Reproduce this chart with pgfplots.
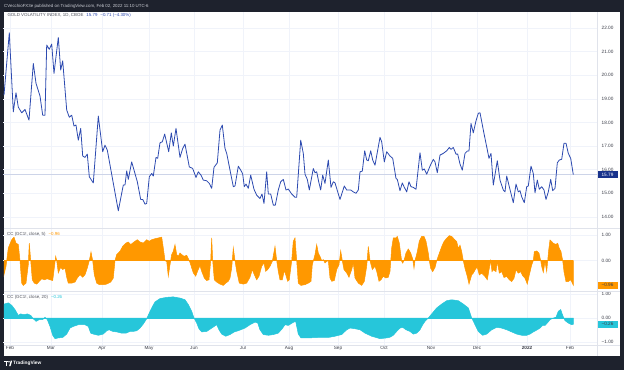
\documentclass[border=0pt]{standalone}
\usepackage{fontspec}
\setmainfont{Liberation Sans}
\usepackage{pgfplots}
\pgfplotsset{compat=1.18}
\definecolor{tvdark}{RGB}{30,34,45}
\definecolor{tvtop}{RGB}{200,203,210}
\definecolor{tvgrid}{RGB}{240,243,250}
\definecolor{tvsep}{RGB}{224,227,235}
\definecolor{tvtext}{RGB}{60,63,74}
\definecolor{tvlegend}{RGB}{80,83,94}
\definecolor{tvblue}{RGB}{45,74,176}
\definecolor{tvnavy}{RGB}{24,50,140}
\definecolor{tvorange}{RGB}{255,152,0}
\definecolor{tvcyan}{RGB}{38,198,218}
\definecolor{tvlast}{RGB}{205,212,232}
\newcommand\tvlab{\fontsize{4.4}{5}\selectfont}
\newcommand\tvtick{\fontsize{4.7}{5.2}\selectfont}
\pgfplotsset{
 tvpanel/.style={
  scale only axis, width=594pt, xmin=3, xmax=597,
  axis line style={draw=none},
  major tick length=0pt, tick style={draw=none},
  xmajorgrids, ymajorgrids,
  major grid style={tvgrid, line width=0.5pt},
  xtick={10,51,102,149,194,243,289,338,384,431,477,527,570},
  xticklabels={},
  yticklabel pos=right,
  yticklabel style={font=\tvtick, text=tvtext, anchor=west, xshift=3pt, inner sep=1.5pt},
  clip=false,
  anchor=south west,
 }
}
\begin{document}
\begin{tikzpicture}
\useasboundingbox (0pt,0pt) rectangle (624pt,370pt);
\fill[tvdark] (0pt,0pt) rectangle (624pt,370pt);
\fill[white] (3.5pt,14pt) rectangle (620pt,358pt);

% main panel
\begin{axis}[tvpanel, at={(3pt,142pt)}, height=216pt, ymin=13.53, ymax=22.68,
  ytick={14,15,16,17,18,19,20,21,22},
  yticklabels={14.00,15.00,16.00,17.00,18.00,19.00,20.00,21.00,22.00}]
\addplot[tvlast, line width=0.5pt] coordinates {(3,15.79) (597,15.79)};
\addplot[tvblue, line width=0.8pt, line join=round] coordinates {
(4,19.16) (9.3,21.8) (13.3,18.45) (16,19.26) (18.3,18.65) (21.7,18.41) (25,18.55) (29,18.1) (33.3,20.5) (36,19.66) (40,19.12) (42.7,18.31) (45,18.31) (46.7,21.28) (49.3,21.1) (51.7,21.32) (54,20.08) (58.3,21.6) (60.7,20.22) (62.7,20.61) (66.7,18.53) (69.3,18.22) (71.7,18.31) (74,17.85) (76,17.89) (78.3,17.25) (80.7,17.75) (82.7,16.58) (85,16.52) (87.3,16.66) (89.3,15.7) (93.3,15.44) (98.3,18.27) (102.7,16.76) (105,17.04) (107.3,16.83) (118.3,14.26) (123.3,15.35) (125,15.35) (126.7,15.95) (128.3,15.59) (131.7,16.33) (137.3,15.49) (140.7,14.74) (142.7,14.74) (145,14.54) (146.7,14.57) (149.3,15.7) (151.7,15.84) (153.3,15.73) (156,16.52) (157.7,16.48) (160,17.14) (162.3,17.18) (164.7,17.51) (168.7,16.76) (171.3,17.56) (173.3,17.0) (176,17.75) (180,16.52) (182.7,16.9) (185,17.08) (189.3,16.12) (192.7,16.05) (196,15.67) (198.3,15.91) (201,15.77) (203.3,15.56) (206.7,15.53) (209.3,15.42) (211.7,15.21) (214,16.1) (217.3,16.29) (220,17.68) (222.3,17.89) (225,16.9) (226.7,16.69) (233.3,15.28) (235,15.31) (238.3,16.15) (241.7,15.91) (242.7,15.81) (244.3,15.28) (246,15.39) (248.3,15.21) (250.7,15.77) (254,15.17) (256.7,14.92) (260,14.78) (262,14.97) (264,14.57) (266.7,15.91) (268.3,14.97) (270.7,14.97) (273.3,14.5) (275.3,14.5) (278.3,15.14) (280.7,15.49) (283.3,15.59) (286,15.14) (288.3,15.18) (291.7,14.97) (295,14.83) (296.7,14.83) (300.7,17.25) (303.3,16.69) (305,15.81) (307.3,15.59) (309.3,15.14) (313.3,16.05) (315,15.87) (316.7,15.91) (318.7,15.49) (320.7,15.14) (322.7,15.77) (325,15.42) (328.3,16.41) (331,15.25) (333.3,15.49) (335,15.44) (340,14.74) (344.3,15.31) (346.7,15.14) (350.7,15.14) (353.3,15.06) (356,15.0) (358.3,15.14) (360,15.91) (362.3,15.94) (364.7,16.8) (366.7,16.41) (368.3,16.38) (370.7,16.8) (372.7,16.41) (375,16.19) (380,17.37) (381.7,17.18) (384.3,16.33) (386.7,16.76) (390,16.58) (392.7,16.48) (396,15.63) (397.3,15.59) (400,15.11) (402.3,15.44) (404,15.28) (406.7,15.06) (409,15.49) (411,15.28) (413.3,15.25) (416,15.17) (420,16.72) (422.3,15.98) (424.3,16.03) (426.7,15.81) (430,16.15) (433.3,16.44) (435,16.33) (437.3,15.87) (440,16.62) (443.3,16.69) (446.7,16.8) (449.3,16.94) (451,16.86) (453.3,16.94) (456,16.66) (457.7,16.66) (460,16.24) (462.3,15.98) (465,16.69) (467.3,16.79) (469,16.79) (471,17.96) (473.3,17.56) (476,18.07) (478.3,18.39) (480,18.41) (484,17.53) (486.7,16.97) (489,16.48) (491,16.69) (493.3,15.35) (497.3,16.38) (500,15.56) (503.3,15.14) (505,15.06) (506.7,15.73) (509.3,15.28) (513.3,14.6) (516,15.39) (518.3,15.06) (520,15.11) (521.7,14.85) (524.3,14.6) (526.7,15.28) (528.3,15.31) (531,16.15) (533.3,15.84) (535,15.02) (537.3,15.56) (539.3,15.17) (541.7,15.28) (544,15.14) (546,14.74) (548.3,15.06) (550.7,15.59) (552.7,15.11) (555,15.21) (557.3,16.29) (559.3,16.41) (561.7,16.44) (564,17.12) (566,17.12) (568.3,16.69) (570.7,16.48) (573.3,15.79)};
\node[fill=tvnavy, text=white, inner sep=0pt, minimum width=21pt, minimum height=7.5pt, font=\tvtick] at (axis cs:607.5,15.79) {15.79};
\end{axis}

% oscillator 5
\begin{axis}[tvpanel, at={(3pt,79pt)}, height=63pt, ymin=-1.19, ymax=1.28,
  ytick={0,1}, yticklabels={0.00,1.00}]
\addplot[draw=tvorange, fill=tvorange, line width=0.5pt] coordinates {
(4,-0.55) (6,-0.22) (8.3,0.5) (11.7,0.82) (14,0.92) (16,0.69) (18.3,0.63) (20,0) (21.7,-0.88) (23.3,-0.97) (26,-0.88) (28.3,-0.16) (29.3,0.69) (30.7,0) (32.3,-0.75) (34.3,-0.88) (36.7,-0.92) (39.3,-0.81) (41.7,-0.71) (44.3,-0.75) (47.3,-0.71) (50,-0.75) (52.7,-0.78) (54.3,-0.29) (55.7,0.17) (56.7,0) (58.3,-0.48) (60.7,-0.26) (62.7,-0.35) (65,-0.29) (66.7,-0.65) (68.3,-0.88) (71.7,-0.88) (75,-0.84) (77.3,-0.68) (80,-0.55) (82.7,-0.65) (85,-0.55) (87.3,-0.29) (89.3,0) (91,0.34) (92.7,0) (94.3,-0.55) (96.7,-0.88) (99.3,-0.94) (103.3,-0.94) (106.7,-0.92) (110.7,-0.84) (113.3,-0.68) (115,0) (116.7,0.24) (118.3,0.3) (120,0.37) (122.7,0.56) (126,0.69) (128.3,0.73) (130.7,0.63) (132.7,0.69) (135,0.76) (137.3,0.82) (140,0.73) (143.3,0.69) (146.7,0.82) (149.3,0.76) (151.7,0.82) (155,0.86) (158.3,0.89) (161.7,0.92) (163.3,0.5) (165,0) (166.7,-0.03) (168.3,-0.61) (170,-0.16) (171.7,0.24) (173.3,0.37) (175,0.63) (176.7,0.24) (178.3,0.17) (180,0.3) (181.7,0.24) (184,0.17) (186.7,0.21) (189.3,0) (190.7,-0.16) (193.3,-0.48) (195.7,-0.61) (197.7,-0.4) (200,-0.2) (201.7,-0.42) (204.3,-0.68) (206.7,-0.78) (209,-0.75) (210.7,0) (211.7,0.89) (212.7,0) (214.3,-0.75) (216.7,-0.84) (220,-0.92) (223.3,-0.97) (225.7,-0.88) (228.3,-0.81) (230,-0.68) (231.7,-0.29) (233.3,0.5) (235,0) (236.7,-0.42) (239.3,-0.88) (243.3,-0.92) (246.7,-0.88) (250,-0.65) (252.3,-0.35) (254.3,-0.55) (256.7,-0.75) (259,-0.61) (261.7,-0.22) (264,-0.09) (265.7,-0.42) (267.7,-0.35) (270,-0.22) (272.3,-0.03) (275,0.56) (276.7,0) (278.3,-0.42) (280,-0.75) (282.3,-0.75) (284.3,-0.39) (285.7,-0.55) (287.7,-0.81) (289.3,-0.75) (291.7,0) (293.3,0.76) (295,0.89) (296.7,0) (298.3,-0.88) (301,-0.97) (305,-0.94) (308.3,-0.88) (311,-0.81) (312.3,-0.16) (315,0.24) (316.7,0.63) (318.3,0.3) (320,0.17) (321.7,0) (323.3,0.04) (325,-0.09) (326.7,-0.03) (328.3,0) (330,-0.68) (331.7,-0.81) (334.3,-0.78) (336.7,-0.35) (339,-0.16) (340.7,0.39) (342.3,0) (344,-0.35) (346.7,-0.48) (349,-0.65) (351.7,-0.35) (353.3,-0.09) (355,-0.68) (358.3,-0.88) (361.7,-0.97) (364.3,-0.81) (366.7,-0.22) (368.3,0.56) (370,0) (372.3,-0.35) (375,-0.22) (376.7,-0.42) (379,-0.81) (381,-0.75) (383.3,-0.61) (385.7,-0.68) (388.3,-0.65) (390,-0.42) (391.7,0.5) (393.3,0.89) (396,0.89) (397.3,0.95) (399.3,0.69) (401.7,-0.03) (402.7,-0.1) (404,0) (406,0.3) (408.3,0.46) (410.7,0.3) (412.7,0.07) (414,-0.3) (415,0) (417.3,0.35) (419.3,0.77) (421.7,0.95) (424,0.95) (426,0.76) (428.3,0.29) (429.3,0) (430.7,-0.3) (432.7,-0.43) (435,-0.27) (436.7,0) (439.3,0.29) (441.7,0.55) (444,0.75) (446.7,0.88) (449.3,0.98) (451.7,0.95) (455,0.81) (456.7,0.75) (458.3,0.48) (460,0.61) (461.7,0.35) (463.3,0) (465,-0.3) (467.3,-0.62) (469,-0.92) (471.7,-0.56) (473.3,-0.49) (476,-0.3) (477.3,-0.27) (479.3,-0.56) (481.7,-0.49) (485,-0.62) (487.3,-0.75) (489,-0.36) (490.7,0) (492,-0.43) (493.3,-0.36) (496,-0.43) (497.3,-0.04) (499.3,-0.49) (501.7,-0.43) (504,-0.66) (506.7,-0.62) (509.3,-0.75) (511.7,-0.82) (514,-0.69) (516,-0.36) (518.3,-0.49) (520.7,-0.43) (522.7,-0.59) (525,-0.69) (527.3,-0.92) (529.3,-0.56) (531.7,-0.17) (533.3,0) (534.3,0.35) (536.7,0.38) (539,0.29) (540.7,0) (541.7,-0.23) (543.3,-0.46) (545,-0.04) (546.7,-0.43) (547.7,0) (548.7,0.42) (550,0.81) (551.7,0.75) (553.3,0.68) (555.7,0.64) (557.7,0.68) (559.3,0.48) (561,0.35) (562.7,0) (564,-0.43) (566,-0.82) (568.3,-0.82) (570.7,-0.75) (573.3,-0.96)} \closedcycle;
\addplot[tvorange, line width=0.8pt] coordinates {(4,0) (573.3,0)};
\node[fill=tvorange, text=tvtext, inner sep=0pt, minimum width=21pt, minimum height=7pt, font=\tvtick] at (axis cs:607.5,-0.96) {−0.96};
\end{axis}

% oscillator 20
\begin{axis}[tvpanel, at={(3pt,25pt)}, height=54pt, ymin=-1.125, ymax=1.125,
  ytick={-1,0,1}, yticklabels={−1.00,0.00,1.00},
  xticklabels={Feb,Mar,Apr,May,Jun,Jul,Aug,Sep,Oct,Nov,Dec,\textbf{2022},Feb},
  xticklabel style={font=\tvtick, text=tvtext, inner sep=1.2pt}]
\addplot[draw=tvcyan, fill=tvcyan, line width=0.5pt] coordinates {
(4,0.58) (8.3,0.63) (11.7,0.53) (15,0.35) (18.3,0.11) (20.7,0.17) (24,0.14) (27.3,0.17) (30.7,0.11) (33.3,-0.03) (36,-0.14) (39.3,-0.07) (42.7,-0.07) (45,0.03) (47.3,-0.07) (50,-0.35) (52.7,-0.72) (55,-0.86) (58.3,-0.83) (62.7,-0.81) (66.7,-0.67) (70,-0.42) (73.3,-0.35) (78.3,-0.28) (85,-0.28) (88.3,-0.35) (90.7,-0.63) (93.3,-0.67) (98.3,-0.72) (103.3,-0.67) (106.7,-0.53) (109.3,-0.49) (112.7,-0.56) (116.7,-0.58) (121.7,-0.63) (126,-0.63) (130,-0.56) (133.3,-0.56) (136.7,-0.53) (140,-0.42) (143.3,-0.25) (146.7,-0.03) (149.3,0.21) (151.7,0.42) (155,0.67) (160,0.81) (166.7,0.86) (173.3,0.88) (180,0.83) (185,0.76) (188.3,0.56) (191.7,0.28) (194,0) (196.7,-0.21) (199,-0.45) (201.7,-0.58) (206.7,-0.56) (211.7,-0.42) (216.7,-0.28) (219,-0.49) (221.7,-0.67) (225.7,-0.76) (230,-0.69) (234.3,-0.58) (238.3,-0.53) (245,-0.42) (250,-0.28) (255,-0.17) (257.7,-0.21) (260,-0.49) (263.3,-0.69) (268.3,-0.72) (273.3,-0.69) (278.3,-0.63) (282.3,-0.44) (285,-0.28) (288.3,-0.31) (293.3,-0.18) (295.7,-0.14) (298.3,-0.67) (301,-0.83) (308.3,-0.83) (318.3,-0.81) (328.3,-0.81) (335,-0.76) (341.7,-0.69) (346.7,-0.49) (350,-0.42) (354.3,-0.44) (360,-0.49) (365,-0.63) (371.7,-0.76) (380,-0.86) (386.7,-0.83) (390,-0.8) (393.3,-0.72) (396.7,-0.56) (400,-0.42) (402.7,-0.39) (406,-0.49) (410,-0.56) (413.3,-0.67) (416.7,-0.63) (420,-0.49) (422.7,-0.28) (425,-0.14) (428.3,0) (431.7,0.17) (436.7,0.42) (441.7,0.58) (446.7,0.72) (451.7,0.76) (458.3,0.72) (463.3,0.58) (468.3,0.42) (471.7,0) (475,-0.28) (478.3,-0.56) (482.7,-0.72) (486.7,-0.67) (491.7,-0.49) (496.7,-0.39) (501.7,-0.42) (506.7,-0.49) (511.7,-0.58) (516.7,-0.67) (521.7,-0.72) (526.7,-0.72) (530,-0.67) (533.3,-0.58) (537.3,-0.49) (540,-0.42) (542.7,-0.31) (545,-0.31) (547.3,-0.21) (550,-0.07) (553.3,0) (556,0.03) (558.3,0.28) (560.7,0.35) (562.7,0.11) (565,-0.11) (568.3,-0.21) (571.7,-0.28) (573.3,-0.26)} \closedcycle;
\addplot[tvcyan, line width=0.8pt] coordinates {(4,0) (573.3,0)};
\node[fill=tvcyan, text=tvtext, inner sep=0pt, minimum width=21pt, minimum height=7pt, font=\tvtick] at (axis cs:607.5,-0.26) {−0.26};
\end{axis}

% separators
\draw[tvsep, line width=0.7pt] (3.5pt,142pt) -- (620pt,142pt);
\draw[tvsep, line width=0.7pt] (3.5pt,79pt) -- (620pt,79pt);
\draw[tvsep, line width=0.7pt] (3.5pt,25pt) -- (620pt,25pt);
\draw[tvsep, line width=0.7pt] (597pt,14pt) -- (597pt,358pt);

% texts
\node[anchor=west, inner sep=0pt, text=tvtop] at (4pt,364pt) {\tvlab CVecchioFX3e published on TradingView.com, Feb 02, 2022 11:10 UTC-6};
\node[anchor=west, inner sep=0pt, text=tvlegend] at (7.3pt,354.3pt) {\tvlab GOLD VOLATILITY INDEX, 1D, CBOE\hspace{3pt}\textcolor{tvblue}{15.79\hspace{3pt}−0.71 (−4.30\%)}};
\node[anchor=west, inner sep=0pt, text=tvlegend] at (7pt,135.3pt) {\tvlab CC (GC1!, close, 5)\hspace{3pt}\textcolor{tvorange}{−0.96}};
\node[anchor=west, inner sep=0pt, text=tvlegend] at (7pt,72.7pt) {\tvlab CC (GC1!, close, 20)\hspace{3pt}\textcolor{tvcyan}{−0.26}};

% logo
\fill[white] (4pt,9.5pt) rectangle (8pt,8pt);
\fill[white] (5.8pt,8pt) rectangle (7.2pt,4pt);
\fill[white] (9pt,8.3pt) circle (0.8pt);
\fill[white] (10.8pt,9.5pt) -- (12.2pt,9.5pt) -- (10.6pt,4pt) -- (9.2pt,4pt) -- cycle;
\node[anchor=west, inner sep=0pt, text=white] at (13pt,6.7pt) {\fontsize{4.8}{5}\selectfont\bfseries TradingView};
\end{tikzpicture}
\end{document}
